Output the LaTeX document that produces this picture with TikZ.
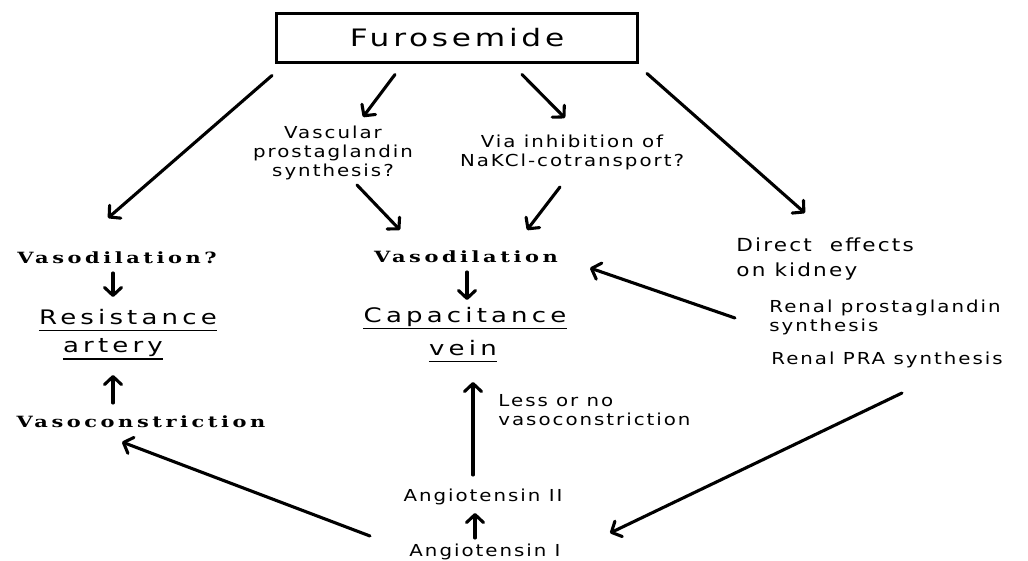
\documentclass[tikz,border=0pt]{standalone}
\usepackage{fontspec}
\usetikzlibrary{arrows.meta}
\newfontfamily\wsans[LetterSpace=10]{DejaVu Sans}
\newfontfamily\wbig[LetterSpace=16]{DejaVu Sans}
\newfontfamily\wtitle[LetterSpace=12]{DejaVu Sans}
\newfontfamily\wserif[LetterSpace=17]{DejaVu Serif}

\begin{document}
\begin{tikzpicture}[x=1pt, y=-1pt,
    arr/.style={line width=3.1pt, line cap=round, -{Straight Barb[length=8pt, width=17pt, round]}},
    uline/.style={line width=1.6pt},
    title/.style={draw, line width=3pt, xscale=1.3, transform shape, minimum width=277pt, minimum height=49pt, font=\wtitle\fontsize{24}{28}\selectfont},
    lbl/.style={font=\wsans\fontsize{16.5}{19}\selectfont, xscale=1.2, transform shape, align=center, inner sep=1pt},
    big/.style={font=\wbig\fontsize{20}{24}\selectfont, xscale=1.3, transform shape, inner sep=0pt},
    serif/.style={font=\wserif\bfseries\fontsize{15.5}{18}\selectfont, xscale=1.35, transform shape, inner sep=1pt}]
  \useasboundingbox[fill=white] (0,0) rectangle (1028,560);

  % Drug and its routes
  \node[title] (furo) at (457,37.5) {Furosemide};
  \node[lbl] (vpg) at (333,153) {Vascular\\prostaglandin\\synthesis?};
  \node[lbl] (via) at (572,152) {Via inhibition of\\NaKCl-cotransport?};

  % Vessels
  \node[serif] (vasq) at (117,258) {Vasodilation?};
  \node[big] (res) at (128,317) {Resistance};
  \node[big] (art) at (113,348) {artery};
  \node[serif] (vasc) at (141,422) {Vasoconstriction};
  \node[serif] (vasm) at (466,257) {Vasodilation};
  \node[big] (cap) at (465,317) {Capacitance};
  \node[big] (vein) at (463,348) {vein};
  \node[lbl, align=left, anchor=west] (less) at (497,410) {Less or no\\vasoconstriction};

  % Renin--angiotensin
  \node[lbl] (ang2) at (483,497) {Angiotensin II};
  \node[lbl] (ang1) at (485,552) {Angiotensin I};

  % Kidney
  \node[lbl, align=left, anchor=west, font=\wsans\fontsize{18}{25}\selectfont] (direct) at (735,259) {Direct\ \ effects\\on kidney};
  \node[lbl, align=left, anchor=west] (rpg) at (768,317) {Renal prostaglandin\\synthesis};
  \node[lbl, anchor=west] (rpra) at (770,360) {Renal PRA synthesis};

  % Underlines
  \foreach \n in {res, art, cap, vein}
    \draw[uline] ([shift={(0,6)}]\n.base west) -- ([shift={(0,6)}]\n.base east);

  % Arrows
  \draw[arr] ([shift={(-185,12)}]furo.south) -- ([shift={(-9,-40)}]vasq.center);
  \draw[arr] ([shift={(-62,11)}]furo.south) -- ([shift={(30,-36)}]vpg.center);
  \draw[arr] ([shift={(65,11)}]furo.south) -- ([shift={(-7,-34)}]via.center);
  \draw[arr] ([shift={(190,10)}]furo.south) -- ([shift={(70,-46)}]direct.west);
  \draw[arr] ([shift={(24,32)}]vpg.center) -- ([shift={(-66,-27)}]vasm.center);
  \draw[arr] ([shift={(-12,35)}]via.center) -- ([shift={(61,-27)}]vasm.center);
  \draw[arr] ([shift={(-4,15)}]vasq.center) -- ([shift={(-15,-20)}]res.center);
  \draw[arr] ([shift={(1,15)}]vasm.center) -- ([shift={(2,-17)}]cap.center);
  \draw[arr] ([shift={(-28,-19)}]vasc.center) -- ([shift={(0,27)}]art.center);
  \draw[arr] ([shift={(-10,-22)}]ang2.center) -- ([shift={(10,34)}]vein.center);
  \draw[arr] ([shift={(-10,-14)}]ang1.center) -- ([shift={(-8,16)}]ang2.center);
  \draw[arr] ([shift={(-115,-16)}]ang1.center) -- ([shift={(-19,20)}]vasc.center);
  \draw[arr] ([shift={(-33,1)}]rpg.west) -- ([shift={(124,11)}]vasm.center);
  \draw[arr] ([shift={(132,33)}]rpra.west) -- ([shift={(125,-19)}]ang1.center);
\end{tikzpicture}
\end{document}
